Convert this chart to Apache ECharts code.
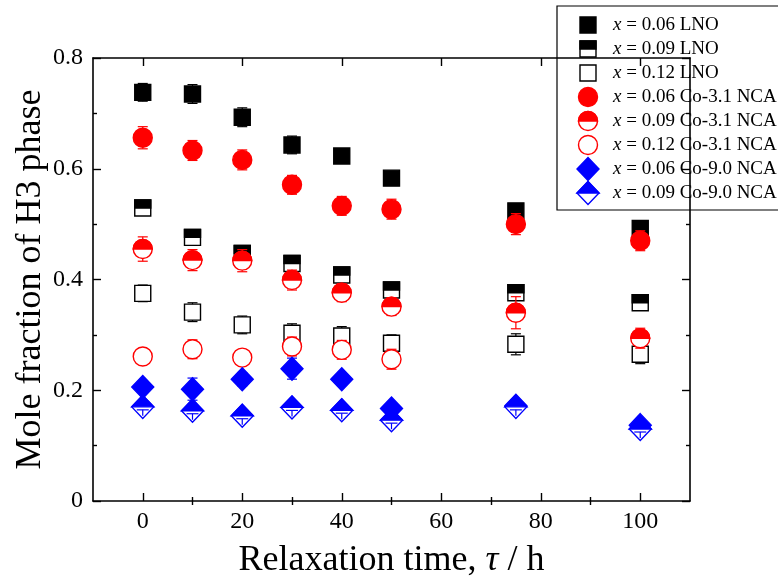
<!DOCTYPE html>
<html><head><meta charset="utf-8">
<script src="https://cdn.jsdelivr.net/npm/echarts@6/dist/echarts.min.js"></script>
<style>html,body{margin:0;padding:0;background:#fff}#c{width:778px;height:584px}</style>
</head><body><div id="c"></div>
<script>
// ---- data ----
const times = [0, 10, 20, 30, 40, 50, 75, 100];
const timesShort = [0, 10, 20, 30, 40, 50];

const lno06 = [0.738, 0.735, 0.693, 0.643, 0.623, 0.583, 0.524, 0.492];
const lno06Err = [0.016, 0.017, 0.017, 0.016, 0.006, 0.006, 0.006, 0.006];
const lno09 = [0.529, 0.476, 0.447, 0.429, 0.408, 0.381, 0.376, 0.358];
const lno09Err = [0.006, 0.006, 0.006, 0.006, 0.006, 0.006, 0.006, 0.008];
const lno12 = [0.375, 0.341, 0.318, 0.303, 0.298, 0.285, 0.283, 0.265];
const lno12Err = [0.015, 0.017, 0.016, 0.017, 0.017, 0.015, 0.019, 0.017];
const nca31_06 = [0.656, 0.633, 0.616, 0.571, 0.533, 0.527, 0.500, 0.470];
const nca31_06Err = [0.020, 0.018, 0.018, 0.017, 0.017, 0.018, 0.019, 0.018];
const nca31_09 = [0.455, 0.435, 0.434, 0.399, 0.376, 0.351, 0.340, 0.294];
const nca31_09Err = [0.022, 0.019, 0.020, 0.018, 0.016, 0.016, 0.029, 0.018];
const nca31_12 = [0.261, 0.274, 0.259, 0.279, 0.273, 0.256];
const nca31_12Err = [0, 0.017, 0.014, 0.017, 0.017, 0.018];
const nca90_06 = [0.206, 0.202, 0.220, 0.239, 0.220, 0.167, 0.172, 0.137];
const nca90_06Err = [0.008, 0.020, 0.012, 0.019, 0.008, 0.008, 0.008, 0.008];
const nca90_09 = [0.170, 0.163, 0.154, 0.169, 0.164, 0.146, 0.170, 0.130];
const nca90_09Err = [0, 0, 0, 0, 0, 0, 0, 0];

const legendLabels = [
  '0.06 LNO', '0.09 LNO', '0.12 LNO',
  '0.06 Co-3.1 NCA', '0.09 Co-3.1 NCA', '0.12 Co-3.1 NCA',
  '0.06 Co-9.0 NCA', '0.09 Co-9.0 NCA'
];
const xMajorTicks = [0, 20, 40, 60, 80, 100];
const xMinorTicks = [10, 30, 50, 70, 90];

// ---- styles ----
const FONT = '"Liberation Serif","Times New Roman",serif';
const BLACK = '#000000', RED = '#ff0000', BLUE = '#0000ff';

function markerShapes(kind, color, cx, cy) {
  const lw = 1.4;
  const out = [];
  if (kind === 'square' || kind === 'halfSquare' || kind === 'openSquare') {
    const s = 16, h = s / 2;
    out.push({type: 'rect', shape: {x: cx - h, y: cy - h, width: s, height: s},
      style: {fill: kind === 'square' ? color : '#fff', stroke: color, lineWidth: lw}});
    if (kind === 'halfSquare') out.push({type: 'rect', shape: {x: cx - h, y: cy - h, width: s, height: h},
      style: {fill: color, stroke: color, lineWidth: lw}});
  } else if (kind === 'circle' || kind === 'halfCircle' || kind === 'openCircle') {
    const r = 9.5;
    out.push({type: 'circle', shape: {cx: cx, cy: cy, r: r},
      style: {fill: kind === 'circle' ? color : '#fff', stroke: color, lineWidth: lw}});
    if (kind === 'halfCircle') out.push({type: 'sector', shape: {cx: cx, cy: cy, r0: 0, r: r, startAngle: Math.PI, endAngle: 2 * Math.PI, clockwise: true},
      style: {fill: color, stroke: color, lineWidth: lw}});
  } else {
    const w = 11, hh = 11.5;
    out.push({type: 'polygon', shape: {points: [[cx, cy - hh], [cx + w, cy], [cx, cy + hh], [cx - w, cy]]},
      style: {fill: kind === 'diamond' ? color : '#fff', stroke: color, lineWidth: lw}});
    if (kind === 'halfDiamond') {
      out.push({type: 'polygon', shape: {points: [[cx, cy - hh], [cx + w, cy], [cx - w, cy]]},
        style: {fill: color, stroke: color, lineWidth: lw}});
    }
  }
  return out;
}

function halfDiamondDeco(color, cx, cy) {
  return [
    {type: 'line', shape: {x1: cx - 6, y1: cy + 3, x2: cx + 6, y2: cy + 3}, style: {stroke: color, lineWidth: 1.2}},
    {type: 'line', shape: {x1: cx, y1: cy + 3, x2: cx, y2: cy + 9}, style: {stroke: color, lineWidth: 1.2}}
  ];
}

function makeRender(kind, color) {
  return function (params, api) {
    const x = api.value(0), y = api.value(1), e = api.value(2);
    const c = api.coord([x, y]);
    const children = [];
    if (e > 0) {
      const t = api.coord([x, y + e]), b = api.coord([x, y - e]);
      const cw = 5;
      children.push({type: 'line', shape: {x1: c[0], y1: t[1], x2: c[0], y2: b[1]}, style: {stroke: color, lineWidth: 1.2}});
      children.push({type: 'line', shape: {x1: c[0] - cw, y1: t[1], x2: c[0] + cw, y2: t[1]}, style: {stroke: color, lineWidth: 1.2}});
      children.push({type: 'line', shape: {x1: c[0] - cw, y1: b[1], x2: c[0] + cw, y2: b[1]}, style: {stroke: color, lineWidth: 1.2}});
    }
    markerShapes(kind, color, c[0], c[1]).forEach(s => children.push(s));
    if (kind === 'halfDiamond') halfDiamondDeco(color, c[0], c[1]).forEach(s => children.push(s));
    return {type: 'group', children: children};
  };
}

function zipData(xs, ys, es) { return xs.map((t, i) => [t, ys[i], es[i]]); }

const seriesDefs = [
  {kind: 'square', color: BLACK, xs: times, ys: lno06, es: lno06Err},
  {kind: 'halfSquare', color: BLACK, xs: times, ys: lno09, es: lno09Err},
  {kind: 'openSquare', color: BLACK, xs: times, ys: lno12, es: lno12Err},
  {kind: 'circle', color: RED, xs: times, ys: nca31_06, es: nca31_06Err},
  {kind: 'halfCircle', color: RED, xs: times, ys: nca31_09, es: nca31_09Err},
  {kind: 'openCircle', color: RED, xs: timesShort, ys: nca31_12, es: nca31_12Err},
  {kind: 'diamond', color: BLUE, xs: times, ys: nca90_06, es: nca90_06Err},
  {kind: 'halfDiamond', color: BLUE, xs: times, ys: nca90_09, es: nca90_09Err}
];

const series = seriesDefs.map((d, i) => ({
  type: 'custom',
  name: 'x = ' + legendLabels[i],
  xAxisIndex: 0, yAxisIndex: 0,
  renderItem: makeRender(d.kind, d.color),
  data: zipData(d.xs, d.ys, d.es),
  encode: {x: 0, y: 1},
  clip: false,
  z: 2 + i,
  silent: true
}));

// legend drawn with graphic
const legendChildren = [{type: 'rect', shape: {x: 557, y: 6, width: 240, height: 204},
  style: {fill: '#fff', stroke: '#000', lineWidth: 1.2}}];
seriesDefs.forEach((d, i) => {
  const cy = 25 + i * 24.0;
  markerShapes(d.kind, d.color, 588, cy).forEach(s => legendChildren.push(s));
  legendChildren.push({type: 'text', x: 613, y: cy,
    style: {text: '{i|x} = ' + legendLabels[i], fontFamily: FONT, fontSize: 19, fill: '#000',
      verticalAlign: 'middle', align: 'left',
      rich: {i: {fontStyle: 'italic', fontFamily: FONT, fontSize: 19, fill: '#000'}}}});
});

const axisLineStyle = {color: '#000', width: 1.6};
const tickStyle = {color: '#000', width: 1.4};
const labelStyle = {color: '#000', fontFamily: FONT, fontSize: 24};

const option = {
  backgroundColor: '#fff',
  animation: false,
  grid: {left: 93, right: 88, top: 58, bottom: 83, containLabel: false, outerBoundsMode: 'none'},
  xAxis: [
    {type: 'value', min: -10, max: 110, position: 'bottom',
      axisLine: {show: true, onZero: false, lineStyle: axisLineStyle},
      axisTick: {show: true, inside: true, length: 8, customValues: xMajorTicks, lineStyle: tickStyle},
      axisLabel: Object.assign({customValues: xMajorTicks, margin: 9}, labelStyle),
      splitLine: {show: false},
      name: 'Relaxation time, {t|τ} / h', nameLocation: 'middle', nameGap: 42, nameMoveOverlap: false,
      nameTextStyle: {fontFamily: FONT, fontSize: 36, color: '#000',
        rich: {t: {fontStyle: 'italic', fontFamily: FONT, fontSize: 36, color: '#000'}}}},
    {type: 'value', min: -10, max: 110, position: 'bottom',
      axisLine: {show: false}, axisLabel: {show: false}, splitLine: {show: false},
      axisTick: {show: true, inside: true, length: 4, customValues: xMinorTicks, lineStyle: tickStyle}},
    {type: 'value', min: -10, max: 110, position: 'top',
      axisLine: {show: true, onZero: false, lineStyle: axisLineStyle}, axisLabel: {show: false}, splitLine: {show: false},
      axisTick: {show: true, inside: true, length: 8, customValues: xMajorTicks, lineStyle: tickStyle}},
    {type: 'value', min: -10, max: 110, position: 'top',
      axisLine: {show: false}, axisLabel: {show: false}, splitLine: {show: false},
      axisTick: {show: true, inside: true, length: 4, customValues: xMinorTicks, lineStyle: tickStyle}}
  ],
  yAxis: [
    {type: 'value', min: 0, max: 0.8, interval: 0.2, position: 'left',
      axisLine: {show: true, onZero: false, lineStyle: axisLineStyle},
      axisTick: {show: true, inside: true, length: 8, lineStyle: tickStyle},
      minorTick: {show: true, splitNumber: 2, length: 4, lineStyle: tickStyle},
      axisLabel: Object.assign({margin: 10, formatter: v => v === 0 ? '0' : v.toFixed(1)}, labelStyle),
      splitLine: {show: false},
      name: 'Mole fraction of H3 phase', nameLocation: 'middle', nameGap: 44, nameRotate: 90, nameMoveOverlap: false,
      nameTextStyle: {fontFamily: FONT, fontSize: 36, color: '#000'}},
    {type: 'value', min: 0, max: 0.8, interval: 0.2, position: 'right',
      axisLine: {show: true, onZero: false, lineStyle: axisLineStyle},
      axisTick: {show: true, inside: true, length: 8, lineStyle: tickStyle},
      minorTick: {show: true, splitNumber: 2, length: 4, lineStyle: tickStyle},
      axisLabel: {show: false}, splitLine: {show: false}}
  ],
  graphic: [{type: 'group', z: 100, children: legendChildren}],
  series: series
};

const chart = echarts.init(document.getElementById('c'), null, {renderer: 'canvas'});
chart.setOption(option);
</script></body></html>
